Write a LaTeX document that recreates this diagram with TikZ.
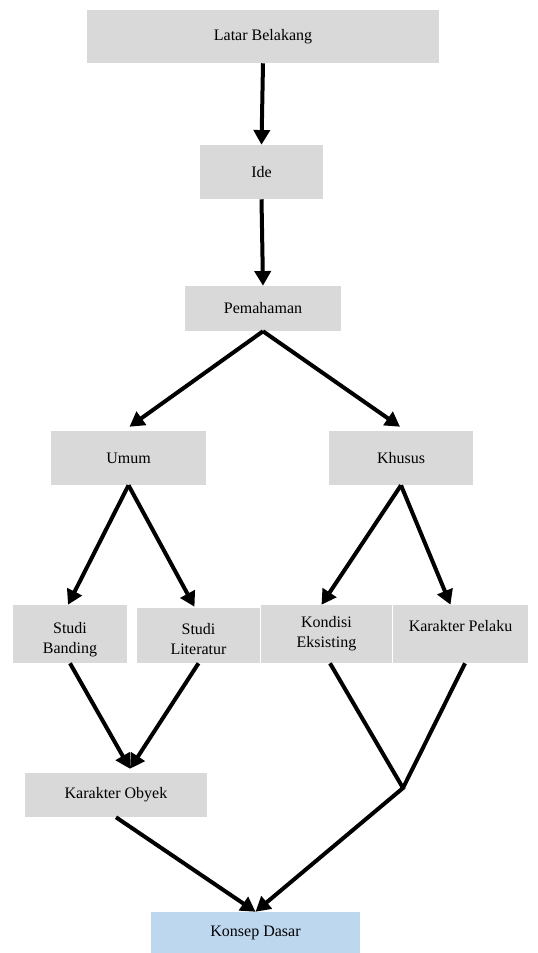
\documentclass[tikz,border=0pt]{standalone}
\usepackage{fontspec}
\setmainfont{Liberation Serif}
\usetikzlibrary{arrows.meta,calc}
\definecolor{abu}{RGB}{217,217,217}
\definecolor{biru}{RGB}{189,215,238}

\begin{document}
\begin{tikzpicture}[x=0.75pt, y=-0.75pt,
        kotak/.style 2 args={fill=abu, inner sep=0pt, align=center,
            minimum width=#1*0.75pt, minimum height=#2*0.75pt,
            font=\fontsize{12}{15}\selectfont},
        teks/.style={align=center, inner sep=0pt, font=\fontsize{12}{15}\selectfont},
        panah/.style={-{Triangle[width=12pt,length=11pt]}, line width=3pt}]
            \useasboundingbox (0,0) rectangle (537,953);

            \node[kotak={352}{53}] (latar) at (263,36.5) {Latar Belakang};
            \node[kotak={123}{54}] (ide) at (261.5,172) {Ide};
            \node[kotak={156}{45}] (paham) at (263,308.5) {Pemahaman};
            \node[kotak={155}{54}] (umum) at (128.5,458) {Umum};
            \node[kotak={144}{54}] (khusus) at (401,458) {Khusus};
            \node[kotak={114}{58}, label={[teks, yshift=-4pt]center:Studi\\Banding}] (banding) at (70,634) {};
            \node[kotak={123}{55}, label={[teks, yshift=-3pt]center:Studi\\Literatur}] (literatur) at (198.5,635.5) {};
            \node[kotak={131}{58}] (kondisi) at (326.5,634) {Kondisi\\Eksisting};
            \node[kotak={135}{58}, text depth=12pt] (pelaku) at (460.5,634) {Karakter Pelaku};
            \node[kotak={182}{44}] (obyek) at (116,795) {Karakter Obyek};
            \node[kotak={209}{41}, fill=biru] (konsep) at (255.5,932.5) {Konsep Dasar};
            \coordinate (simpul) at (403,788);

            \draw[panah] (latar.south) -- (ide.north);
            \draw[panah] (ide.south) -- (paham.north);
            \draw[panah] (paham.south) -- ($(umum.north)+(1,-4)$);
            \draw[panah] (paham.south) -- ($(khusus.north)+(-1,-4)$);
            \draw[panah] (umum.south) -- ($(banding.north)+(-2,0)$);
            \draw[panah] (umum.south) -- ($(literatur.north)+(-4,-1)$);
            \draw[panah] (khusus.south) -- ($(kondisi.north)+(-5,0)$);
            \draw[panah] (khusus.south) -- ($(pelaku.north)+(-10,0)$);
            \draw[panah] (banding.south) -- ($(obyek.north)+(14,-4)$);
            \draw[panah] (literatur.south) -- ($(obyek.north)+(14,-4)$);
            \draw[line width=3pt] (pelaku.south)++(4.5,0) -- (simpul);
            \draw[panah] ($(kondisi.south)+(3.5,0)$) -- (simpul) -- (konsep.north);
            \draw[panah] (obyek.south) -- (konsep.north);
        \end{tikzpicture}
\end{document}
